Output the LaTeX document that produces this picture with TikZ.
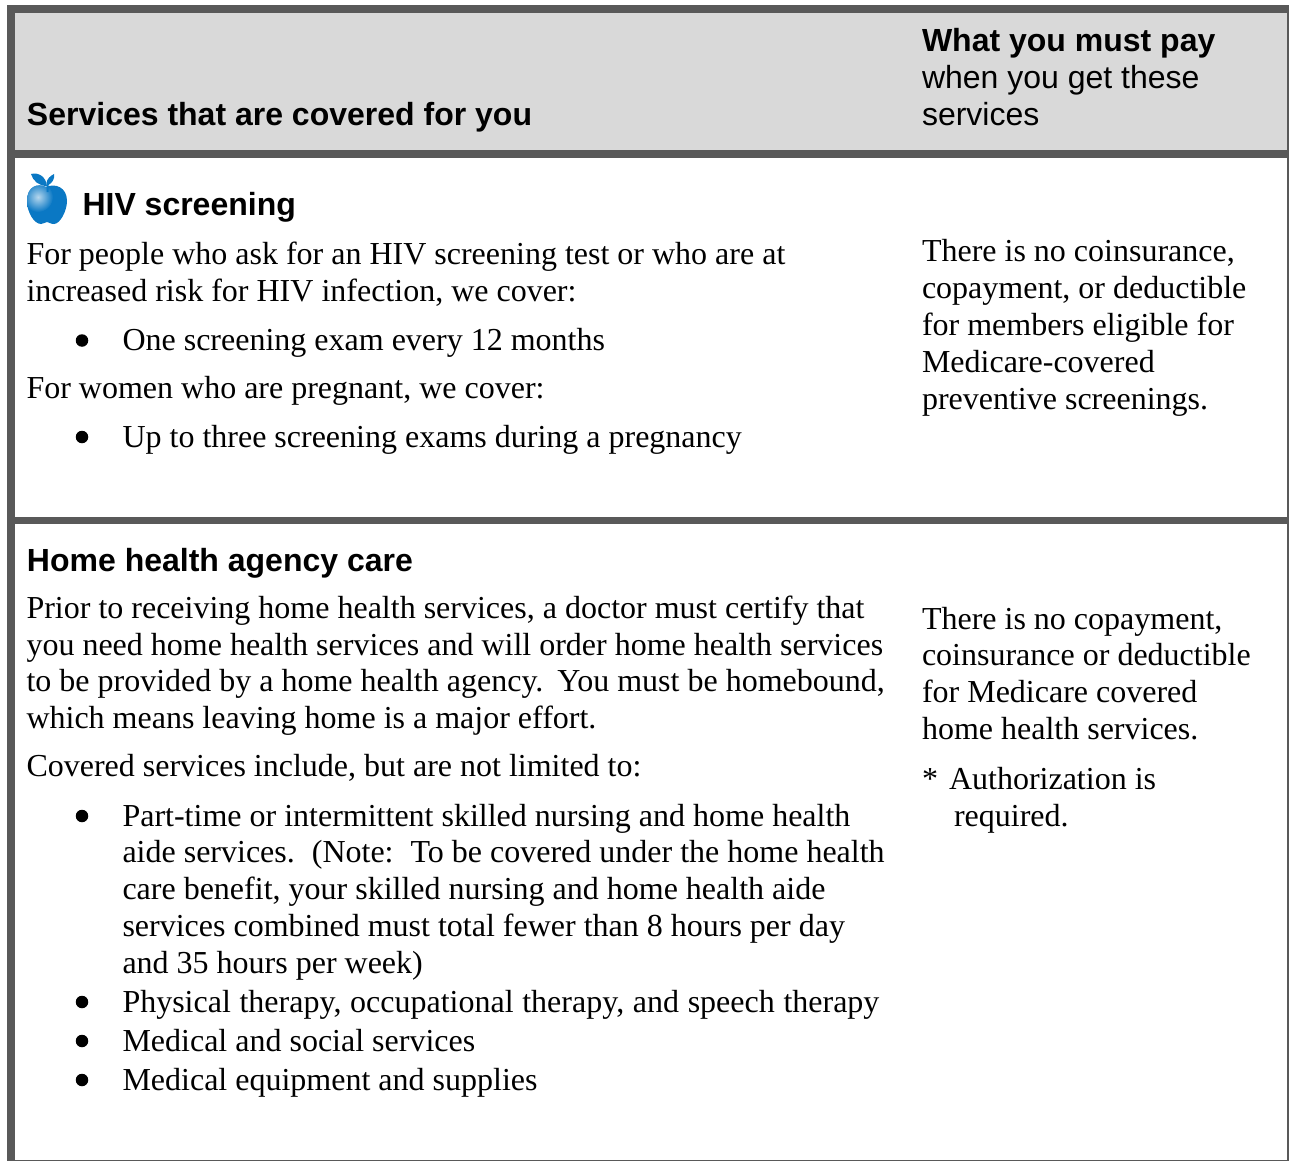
\documentclass[tikz,border=0pt]{standalone}
\usepackage{fontspec}
\setmainfont{Liberation Serif}
\newfontfamily\hfont{Liberation Sans}
\definecolor{framegray}{HTML}{595959}
\definecolor{headgray}{HTML}{D9D9D9}
\definecolor{appleblue}{HTML}{0A78C4}
\tikzset{
 txt/.style={anchor=base west,inner sep=0pt,outer sep=0pt,font=\frenchspacing\fontsize{32}{36}\selectfont},
 head/.style={anchor=base west,inner sep=0pt,outer sep=0pt,font=\hfont\fontsize{32}{36}\selectfont},
 headb/.style={anchor=base west,inner sep=0pt,outer sep=0pt,font=\hfont\bfseries\fontsize{32}{36}\selectfont},
 bul/.style={circle,fill=black,draw=none,minimum size=12.5pt,inner sep=0pt,outer sep=0pt},
}
\begin{document}
\begin{tikzpicture}[x=1pt,y=-1pt]
\useasboundingbox (0,0) rectangle (1289,1161);
\fill[white] (0,0) rectangle (1289,1161);
\fill[headgray] (15,13) rectangle (1288,150);
\fill[framegray] (7,5) rectangle (1289,13);
\fill[framegray] (7,5) rectangle (15,1161);
\fill[framegray] (7,150) rectangle (1289,158);
\fill[framegray] (7,517) rectangle (1289,524);
\fill[framegray] (1287,5) rectangle (1289,1161);
\fill[framegray] (7,1160) rectangle (1289,1161);
% apple
\begin{scope}
\clip (46,187) .. controls (38,183) and (27,186) .. (27,201) .. controls (27,212) and (34,224) .. (41,224) .. controls (44,224) and (45,222) .. (47,222) .. controls (49,222) and (50,224) .. (54,224) .. controls (60,224) and (67,211) .. (67,201) .. controls (67,187) and (55,183) .. (46,187) -- cycle;
\fill[appleblue] (20,180) rectangle (70,230);
\shade[inner color=white!70!appleblue,outer color=appleblue] (38,197) circle (15);
\end{scope}
\fill[appleblue] (31,174) .. controls (39,172) and (46,177) .. (47,186) .. controls (39,186) and (33,181) .. (31,174) -- cycle;
\fill[appleblue] (54,174) .. controls (55,179) and (52,183) .. (48.5,185) -- (48.5,192) -- (46.5,192) -- (46.5,183) .. controls (47,179) and (50,176) .. (54,174) -- cycle;
% header
\node[headb] (h1) at (27,126) {Services that are covered for you};
\node[headb] (h2) at (922,52) {What you must pay};
\node[head] (h3) at (922,89) {when you get these};
\node[head] (h4) at (922,126) {services};
% HIV
\node[headb] (t1) at (82.5,215) {HIV screening};
\node[txt] (a1) at (26.5,264) {For people who ask for an HIV screening test or who are at};
\node[txt] (a2) at (26.5,301) {increased risk for HIV infection, we cover:};
\node[bul] (b1) at (82,340.5) {};
\node[txt] (a3) at (122.5,350) {One screening exam every 12 months};
\node[txt] (a4) at (26.5,398) {For women who are pregnant, we cover:};
\node[bul] (b2) at (82,437) {};
\node[txt] (a5) at (122.5,447.5) {Up to three screening exams during a pregnancy};
\node[txt] (r1) at (922,261.5) {There is no coinsurance,};
\node[txt] (r2) at (922,298.5) {copayment, or deductible};
\node[txt] (r3) at (922,335.5) {for members eligible for};
\node[txt] (r4) at (922,372) {Medicare-covered};
\node[txt] (r5) at (922,409) {preventive screenings.};
% Home health
\node[headb] (t2) at (27,571) {Home health agency care};
\node[txt] (c1) at (26.5,618) {Prior to receiving home health services, a doctor must certify that};
\node[txt] (c2) at (26.5,655) {you need home health services and will order home health services};
\node[txt] (c3) at (26.5,691) {to be provided by a home health agency.\hspace{14pt}You must be homebound,};
\node[txt] (c4) at (26.5,728) {which means leaving home is a major effort.};
\node[txt] (c5) at (26.5,776) {Covered services include, but are not limited to:};
\node[bul] (b3) at (82,816) {};
\node[txt] (d1) at (122.5,826) {Part-time or intermittent skilled nursing and home health};
\node[txt] (d2) at (122.5,862) {aide services.\hspace{17pt}(Note:\hspace{17pt}To be covered under the home health};
\node[txt] (d3) at (122.5,899) {care benefit, your skilled nursing and home health aide};
\node[txt] (d4) at (122.5,936) {services combined must total fewer than 8 hours per day};
\node[txt] (d5) at (122.5,973) {and 35 hours per week)};
\node[bul] (b4) at (82,1002) {};
\node[txt] (d6) at (122.5,1012.5) {\spaceskip=8.67pt Physical therapy, occupational therapy, and speech therapy};
\node[bul] (b5) at (82,1041) {};
\node[txt] (d7) at (122.5,1051) {Medical and social services};
\node[bul] (b6) at (82,1080) {};
\node[txt] (d8) at (122.5,1090) {Medical equipment and supplies};
\node[txt] (s1) at (922,629) {There is no copayment,};
\node[txt] (s2) at (922,665) {coinsurance or deductible};
\node[txt] (s3) at (922,702) {for Medicare covered};
\node[txt] (s4) at (922,739) {home health services.};
\node[txt] (s5) at (922,789) {*};
\node[txt] (s6) at (949,789) {Authorization is};
\node[txt] (s7) at (954,826) {required.};
\end{tikzpicture}
\end{document}
